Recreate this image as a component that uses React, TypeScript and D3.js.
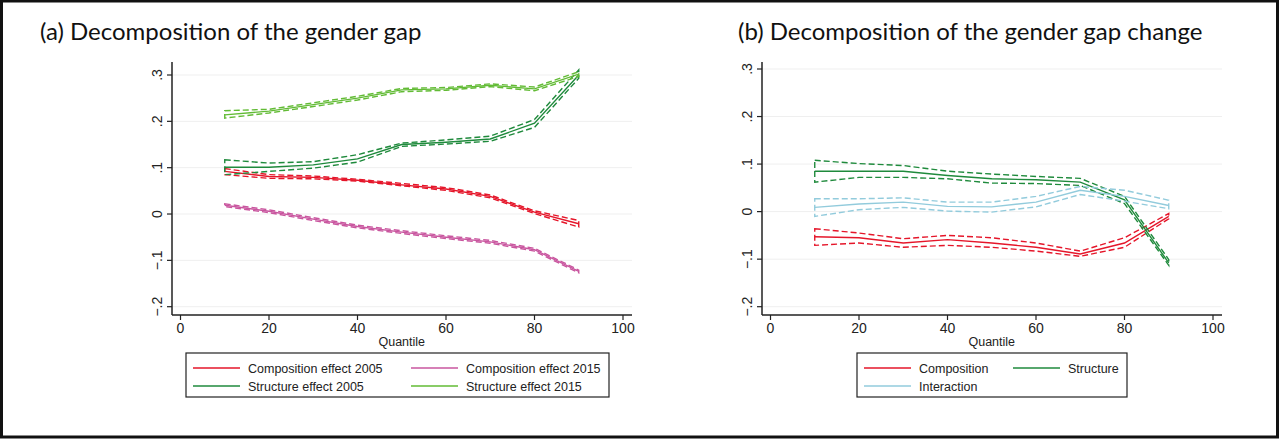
import React from 'react';
import * as d3 from 'd3';

const QUANTILES = [10, 20, 30, 40, 50, 60, 70, 80, 90];
const X_TICKS = [0, 20, 40, 60, 80, 100];
const Y_TICKS = [-0.2, -0.1, 0, 0.1, 0.2, 0.3];

// panel (a)
const compA2005 = [0.092, 0.081, 0.079, 0.073, 0.063, 0.054, 0.038, 0.004, -0.021];
const compA2005Lo = [0.085, 0.077, 0.076, 0.071, 0.061, 0.051, 0.035, 0.001, -0.028];
const compA2005Hi = [0.098, 0.085, 0.082, 0.075, 0.066, 0.057, 0.041, 0.007, -0.014];

const compA2015 = [0.019, 0.006, -0.011, -0.027, -0.039, -0.05, -0.06, -0.077, -0.124];
const compA2015Lo = [0.016, 0.003, -0.014, -0.03, -0.042, -0.053, -0.063, -0.08, -0.127];
const compA2015Hi = [0.022, 0.009, -0.008, -0.024, -0.036, -0.047, -0.057, -0.074, -0.121];

const structA2005 = [0.101, 0.101, 0.106, 0.119, 0.15, 0.155, 0.162, 0.196, 0.3];
const structA2005Lo = [0.085, 0.092, 0.099, 0.112, 0.146, 0.151, 0.157, 0.187, 0.293];
const structA2005Hi = [0.117, 0.11, 0.113, 0.128, 0.153, 0.16, 0.168, 0.204, 0.311];

const structA2015 = [0.214, 0.222, 0.236, 0.25, 0.268, 0.27, 0.278, 0.27, 0.302];
const structA2015Lo = [0.207, 0.218, 0.232, 0.246, 0.264, 0.267, 0.275, 0.266, 0.297];
const structA2015Hi = [0.223, 0.226, 0.24, 0.254, 0.271, 0.273, 0.281, 0.274, 0.307];

// panel (b)
const compB = [-0.053, -0.055, -0.066, -0.059, -0.066, -0.075, -0.089, -0.066, -0.01];
const compBLo = [-0.071, -0.066, -0.075, -0.071, -0.075, -0.083, -0.094, -0.075, -0.015];
const compBHi = [-0.036, -0.045, -0.057, -0.05, -0.055, -0.066, -0.083, -0.055, -0.004];

const structB = [0.085, 0.085, 0.085, 0.076, 0.069, 0.067, 0.062, 0.025, -0.108];
const structBLo = [0.062, 0.072, 0.072, 0.069, 0.06, 0.059, 0.055, 0.017, -0.113];
const structBHi = [0.108, 0.101, 0.097, 0.085, 0.079, 0.074, 0.07, 0.032, -0.101];

const interB = [0.009, 0.016, 0.02, 0.011, 0.01, 0.02, 0.045, 0.032, 0.013];
const interBLo = [-0.01, 0.004, 0.009, 0.001, -0.001, 0.01, 0.036, 0.022, 0.006];
const interBHi = [0.027, 0.027, 0.029, 0.02, 0.02, 0.032, 0.053, 0.045, 0.024];

const RED = '#e5162a';
const MAGENTA = '#c9569f';
const DKGREEN = '#1f8a3c';
const LTGREEN = '#62bb35';
const LTBLUE = '#92cbdc';

interface Series {
  label: string;
  color: string;
  mid: number[];
  lo: number[];
  hi: number[];
}

const seriesA: Series[] = [
  { label: 'Composition effect 2005', color: RED, mid: compA2005, lo: compA2005Lo, hi: compA2005Hi },
  { label: 'Composition effect 2015', color: MAGENTA, mid: compA2015, lo: compA2015Lo, hi: compA2015Hi },
  { label: 'Structure effect 2005', color: DKGREEN, mid: structA2005, lo: structA2005Lo, hi: structA2005Hi },
  { label: 'Structure effect 2015', color: LTGREEN, mid: structA2015, lo: structA2015Lo, hi: structA2015Hi },
];

const seriesB: Series[] = [
  { label: 'Composition', color: RED, mid: compB, lo: compBLo, hi: compBHi },
  { label: 'Structure', color: DKGREEN, mid: structB, lo: structBLo, hi: structBHi },
  { label: 'Interaction', color: LTBLUE, mid: interB, lo: interBLo, hi: interBHi },
];

const fmtY = (v: number) => {
  if (Math.abs(v) < 1e-9) return '0';
  const s = d3.format('.1f')(v);
  return s.replace('0.', '.');
};

interface PanelProps {
  title: string;
  titleX: number;
  series: Series[];
  left: number;
  yTop: number;
  legend: { x: number; w: number; colX: number; lineW: number };
}

const Panel: React.FC<PanelProps> = ({ title, titleX, series, left, yTop, legend }) => {
  const axisX = left;
  const plotRight = left + 460;
  const axisY = 315;
  const x = d3.scaleLinear().domain([0, 100]).range([left + 8.5, left + 451]);
  const y = d3.scaleLinear().domain([-0.2, 0.3]).range([306.7, yTop]);

  const line = d3
    .line<[number, number]>()
    .x((d) => x(d[0]))
    .y((d) => y(d[1]));

  const band = (s: Series) => {
    const up = QUANTILES.map((q, i) => [q, s.hi[i]] as [number, number]);
    const dn = QUANTILES.map((q, i) => [q, s.lo[i]] as [number, number]).reverse();
    return line([...up, ...dn]) + 'Z';
  };

  const font = '"Liberation Sans", Arial, sans-serif';

  return (
    <g>
      <text x={titleX} y={40} fontFamily="Lato, 'Open Sans', sans-serif" fontSize={24} fill="#111">
        {title}
      </text>
      {Y_TICKS.map((t) => (
        <line key={`g${t}`} x1={axisX} x2={plotRight} y1={y(t)} y2={y(t)} stroke="#efefef" strokeWidth={1} />
      ))}
      {series.map((s) => (
        <g key={s.label}>
          <path d={band(s)} fill="none" stroke={s.color} strokeWidth={1.4} strokeDasharray="6,3" />
          <path
            d={line(QUANTILES.map((q, i) => [q, s.mid[i]] as [number, number])) ?? ''}
            fill="none"
            stroke={s.color}
            strokeWidth={1.4}
          />
        </g>
      ))}
      <line x1={axisX} x2={axisX} y1={62} y2={axisY} stroke="#222" strokeWidth={1.5} />
      <line x1={axisX} x2={plotRight} y1={axisY} y2={axisY} stroke="#222" strokeWidth={1.5} />
      {Y_TICKS.map((t) => (
        <g key={`y${t}`}>
          <line x1={axisX - 5} x2={axisX} y1={y(t)} y2={y(t)} stroke="#222" strokeWidth={1.2} />
          <text
            transform={`translate(${axisX - 10},${y(t)}) rotate(-90)`}
            textAnchor="middle"
            fontFamily={font}
            fontSize={14}
            fill="#222"
          >
            {fmtY(t)}
          </text>
        </g>
      ))}
      {X_TICKS.map((t) => (
        <g key={`x${t}`}>
          <line x1={x(t)} x2={x(t)} y1={axisY} y2={axisY + 5} stroke="#222" strokeWidth={1.2} />
          <text x={x(t)} y={axisY + 18} textAnchor="middle" fontFamily={font} fontSize={14} fill="#222">
            {t}
          </text>
        </g>
      ))}
      <text x={x(50)} y={axisY + 31} textAnchor="middle" fontFamily={font} fontSize={12.5} fill="#222">
        Quantile
      </text>
      <rect x={legend.x} y={353} width={legend.w} height={44} fill="#fff" stroke="#222" strokeWidth={1.2} />
      {series.map((s, i) => {
        const col = i % 2;
        const row = Math.floor(i / 2);
        const lx = legend.x + 7 + col * legend.colX;
        const ly = 368 + row * 18;
        return (
          <g key={`l${s.label}`}>
            <line x1={lx} x2={lx + legend.lineW} y1={ly} y2={ly} stroke={s.color} strokeWidth={1.4} />
            <text x={lx + legend.lineW + 8} y={ly + 4.5} fontFamily={font} fontSize={12.5} fill="#222">
              {s.label}
            </text>
          </g>
        );
      })}
    </g>
  );
};

const App: React.FC = () => {
  return (
    <svg
      width={1280}
      height={439}
      style={{ position: 'absolute', left: 0, top: 0, background: '#fff' }}
    >
      <rect x={0} y={0} width={1280} height={439} fill="#fff" />
      <rect x={1.5} y={1} width={1276} height={436} fill="none" stroke="#111" strokeWidth={3} />
      <Panel
        title="(a) Decomposition of the gender gap"
        titleX={40}
        series={seriesA}
        left={172}
        yTop={75}
        legend={{ x: 186, w: 423, colX: 218, lineW: 47 }}
      />
      <Panel
        title="(b) Decomposition of the gender gap change"
        titleX={738}
        series={seriesB}
        left={762}
        yTop={69}
        legend={{ x: 857, w: 270, colX: 149, lineW: 47 }}
      />
    </svg>
  );
};

export default App;
